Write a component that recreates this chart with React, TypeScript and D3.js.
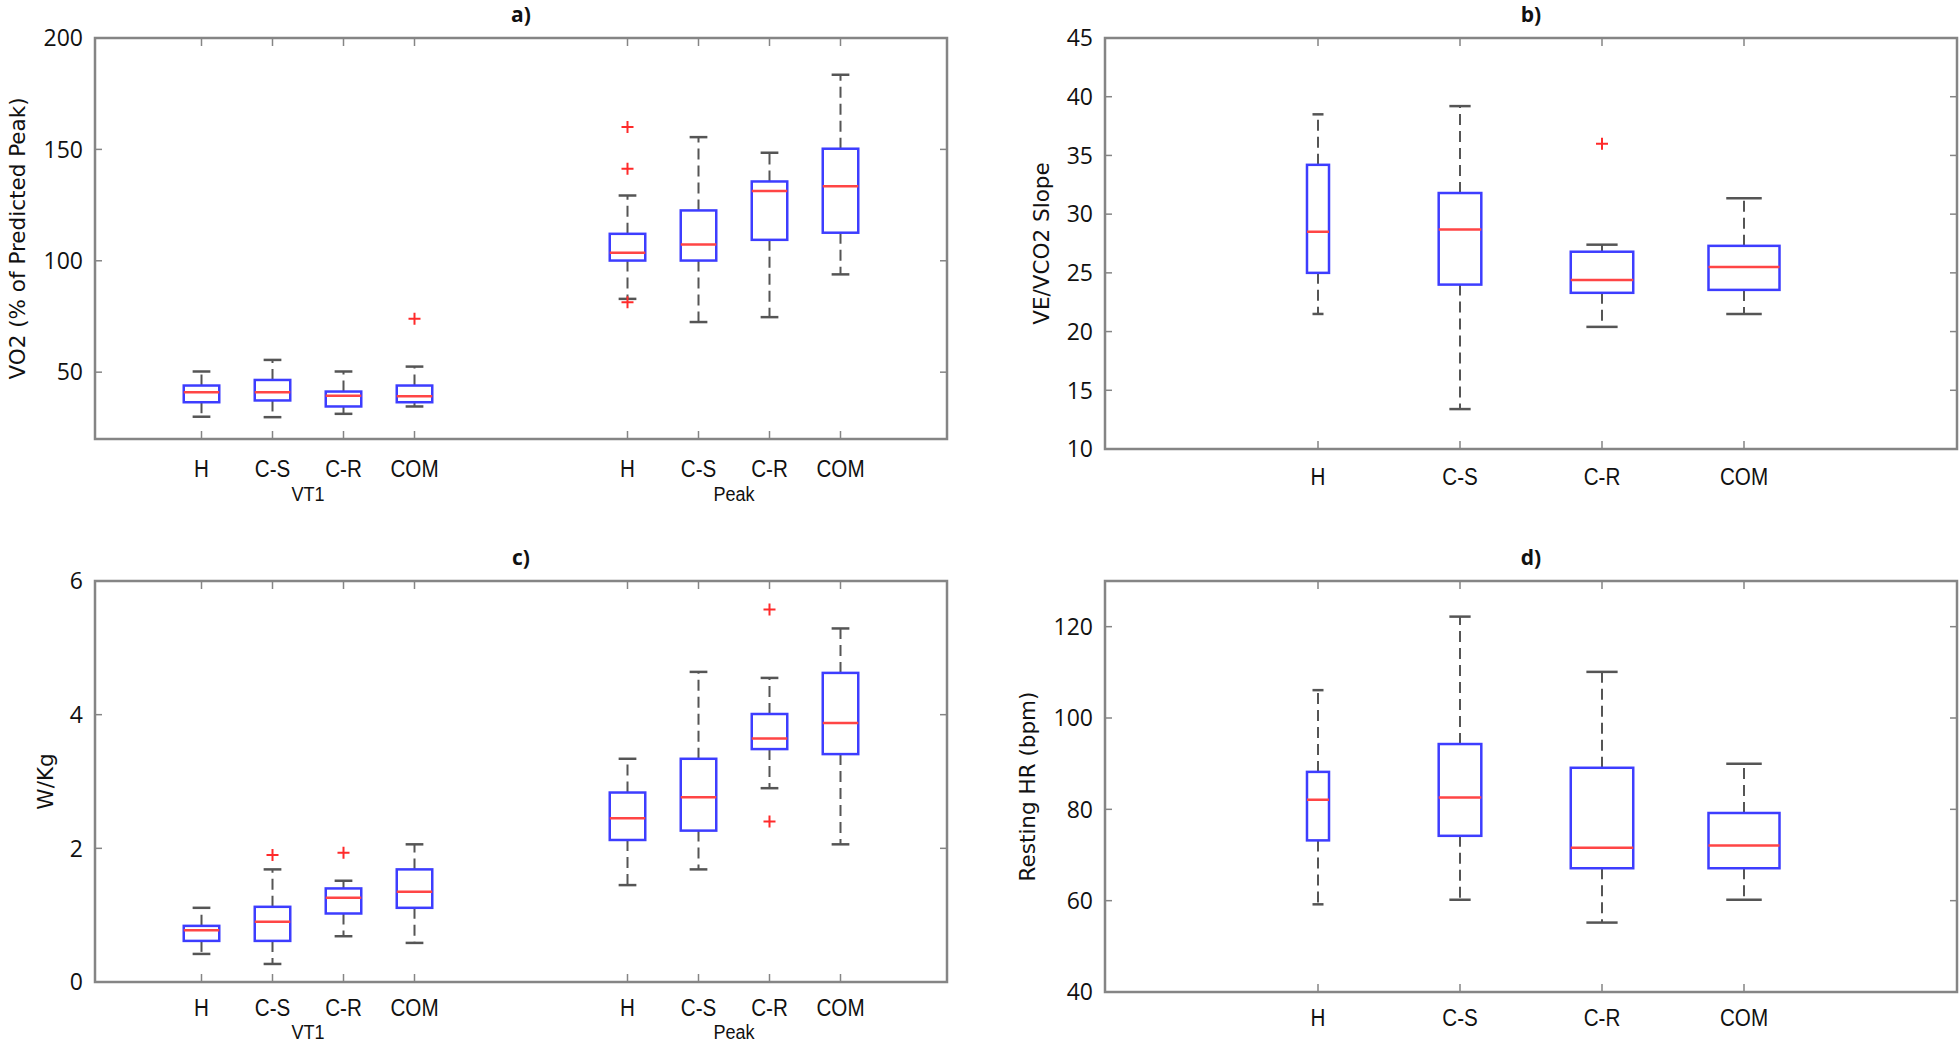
import { useEffect, useRef } from 'react';
import * as d3 from 'd3';

// groups and phases
const groups = ['H', 'C-S', 'C-R', 'COM'];
const phases = ['VT1', 'Peak'];
const phasePositions = [1, 2, 3, 4, 7, 8, 9, 10];
const singlePositions = [1, 2, 3, 4];

// a) VO2 (% of predicted peak): [lower whisker, q1, median, q3, upper whisker]
const vo2Stats = [
    [30, 36.5, 41, 44, 50.3],
    [29.8, 37.3, 41, 46.5, 55.5],
    [31.3, 34.6, 39.4, 41.3, 50.3],
    [34.6, 36.5, 39.2, 44, 52.5],
    [82.9, 100.1, 103.6, 112.1, 129.3],
    [72.5, 100.1, 107.3, 122.6, 155.5],
    [74.7, 109.4, 131.3, 135.6, 148.5],
    [93.9, 112.6, 133.5, 150.3, 183.5]
];
const vo2Outliers = [[], [], [], [74], [160, 141.3, 81.4], [], [], []];
const vo2Ticks = [50, 100, 150, 200];

// b) VE/VCO2 slope
const slopeStats = [
    [21.5, 25.0, 28.5, 34.2, 38.5],
    [13.4, 24.0, 28.7, 31.8, 39.2],
    [20.4, 23.3, 24.4, 26.8, 27.4],
    [21.5, 23.55, 25.5, 27.3, 31.35]
];
const slopeOutliers = [[], [], [36], []];
const slopeTicks = [10, 15, 20, 25, 30, 35, 40, 45];

// c) W/Kg
const wkgStats = [
    [0.42, 0.615, 0.775, 0.84, 1.11],
    [0.27, 0.615, 0.9, 1.125, 1.685],
    [0.685, 1.025, 1.26, 1.4, 1.515],
    [0.585, 1.11, 1.35, 1.685, 2.06],
    [1.45, 2.125, 2.45, 2.835, 3.34],
    [1.685, 2.265, 2.765, 3.34, 4.64],
    [2.9, 3.485, 3.645, 4.01, 4.55],
    [2.06, 3.41, 3.875, 4.625, 5.29]
];
const wkgOutliers = [[], [1.9], [1.935], [], [], [], [5.575, 2.4], []];
const wkgTicks = [0, 2, 4, 6];

// d) resting HR
const hrStats = [
    [59.2, 73.2, 82.1, 88.2, 106.1],
    [60.2, 74.2, 82.6, 94.3, 122.2],
    [55.2, 67.1, 71.6, 89.1, 110.1],
    [60.2, 67.1, 72.1, 79.2, 90.0]
];
const hrOutliers = [[], [], [], []];
const hrTicks = [40, 60, 80, 100, 120];

// box widths (x units) for the single-phase panels
const singleWidths = [0.155, 0.3, 0.44, 0.5];
const phaseWidths = [0.5, 0.5, 0.5, 0.5, 0.5, 0.5, 0.5, 0.5];

const panels = [
    {
        title: 'a)', ylabel: 'VO2 (% of Predicted Peak)',
        left: 95, right: 947, top: 38, bottom: 439, labelGap: 38, phaseGap: 62,
        yDomain: [20, 200], yTicks: vo2Ticks, xDomain: [-0.5, 11.5],
        positions: phasePositions, stats: vo2Stats, outliers: vo2Outliers,
        widths: phaseWidths, labels: [...groups, ...groups], phased: true
    },
    {
        title: 'b)', ylabel: 'VE/VCO2 Slope',
        left: 1105, right: 1957, top: 38, bottom: 449, labelGap: 36, phaseGap: 0,
        yDomain: [10, 45], yTicks: slopeTicks, xDomain: [-0.5, 5.5],
        positions: singlePositions, stats: slopeStats, outliers: slopeOutliers,
        widths: singleWidths, labels: groups, phased: false
    },
    {
        title: 'c)', ylabel: 'W/Kg',
        left: 95, right: 947, top: 581, bottom: 982, labelGap: 34, phaseGap: 57,
        yDomain: [0, 6], yTicks: wkgTicks, xDomain: [-0.5, 11.5],
        positions: phasePositions, stats: wkgStats, outliers: wkgOutliers,
        widths: phaseWidths, labels: [...groups, ...groups], phased: true
    },
    {
        title: 'd)', ylabel: 'Resting HR (bpm)',
        left: 1105, right: 1957, top: 581, bottom: 992, labelGap: 34, phaseGap: 0,
        yDomain: [40, 130], yTicks: hrTicks, xDomain: [-0.5, 5.5],
        positions: singlePositions, stats: hrStats, outliers: hrOutliers,
        widths: singleWidths, labels: groups, phased: false
    }
];

const FRAME = '#858585';
const WHISKER = '#555555';
const BOX = '#3d3dff';
const MEDIAN = '#ff4545';
const NARROW = 0.86; // x labels in the original are a condensed face

export default function App() {
    const svgRef = useRef(null);

    useEffect(() => {
        const svg = d3.select(svgRef.current);
        svg.selectAll('*').remove();

        // condensed text helper
        const narrowText = (g, tx, ty, size, txt) =>
            g.append('text')
                .attr('transform', `translate(${tx},${ty}) scale(${NARROW},1)`)
                .attr('text-anchor', 'middle')
                .attr('font-family', '"Liberation Sans", Arial, sans-serif')
                .attr('font-size', size)
                .attr('fill', '#111')
                .text(txt);

        panels.forEach(p => {
            const x = d3.scaleLinear().domain(p.xDomain).range([p.left, p.right]);
            const y = d3.scaleLinear().domain(p.yDomain).range([p.bottom, p.top]);
            const g = svg.append('g');

            // ticks (inward, on all four sides)
            p.yTicks.forEach(t => {
                g.append('line').attr('x1', p.left).attr('x2', p.left + 7)
                    .attr('y1', y(t)).attr('y2', y(t))
                    .attr('stroke', FRAME).attr('stroke-width', 1.5);
                g.append('line').attr('x1', p.right).attr('x2', p.right - 7)
                    .attr('y1', y(t)).attr('y2', y(t))
                    .attr('stroke', FRAME).attr('stroke-width', 1.5);
                g.append('text')
                    .attr('x', p.left - 12)
                    .attr('y', y(t))
                    .attr('dy', '0.36em')
                    .attr('text-anchor', 'end')
                    .attr('font-family', '"Open Sans", sans-serif')
                    .attr('font-size', 23)
                    .attr('fill', '#111')
                    .text(t);
            });
            p.positions.forEach((pos, i) => {
                g.append('line').attr('x1', x(pos)).attr('x2', x(pos))
                    .attr('y1', p.bottom).attr('y2', p.bottom - 8)
                    .attr('stroke', FRAME).attr('stroke-width', 1.5);
                g.append('line').attr('x1', x(pos)).attr('x2', x(pos))
                    .attr('y1', p.top).attr('y2', p.top + 8)
                    .attr('stroke', FRAME).attr('stroke-width', 1.5);
                narrowText(g, x(pos), p.bottom + p.labelGap, 24, p.labels[i]);
            });

            // phase labels
            if (p.phased) {
                phases.forEach((ph, k) => {
                    const ps = p.positions.slice(k * 4, k * 4 + 4);
                    narrowText(g, x((ps[0] + ps[3]) / 2), p.bottom + p.phaseGap, 21, ph);
                });
            }

            // frame
            g.append('rect')
                .attr('x', p.left).attr('y', p.top)
                .attr('width', p.right - p.left).attr('height', p.bottom - p.top)
                .attr('fill', 'none').attr('stroke', FRAME).attr('stroke-width', 2.5);

            // title
            g.append('text')
                .attr('x', (p.left + p.right) / 2)
                .attr('y', p.top - 16)
                .attr('text-anchor', 'middle')
                .attr('font-family', '"Open Sans", sans-serif')
                .attr('font-weight', 700)
                .attr('font-size', 21)
                .attr('fill', '#111')
                .text(p.title);

            // y label, placed next to the widest tick label
            const digits = d3.max(p.yTicks, t => String(t).length);
            const lx = p.left - (36 + 14 * digits);
            g.append('text')
                .attr('transform', `translate(${lx},${(p.top + p.bottom) / 2}) rotate(-90)`)
                .attr('text-anchor', 'middle')
                .attr('dy', '0.35em')
                .attr('font-family', '"DejaVu Sans", sans-serif')
                .attr('font-size', 21.5)
                .attr('fill', '#111')
                .text(p.ylabel);

            // boxes
            p.stats.forEach((s, i) => {
                const cx = x(p.positions[i]);
                const half = (x(p.widths[i]) - x(0)) / 2;
                const cap = half / 2;
                const [lo, q1, med, q3, hi] = s;

                // dashed whiskers
                g.append('line').attr('x1', cx).attr('x2', cx)
                    .attr('y1', y(q3)).attr('y2', y(hi))
                    .attr('stroke', WHISKER).attr('stroke-width', 2)
                    .attr('stroke-dasharray', '11,6');
                g.append('line').attr('x1', cx).attr('x2', cx)
                    .attr('y1', y(q1)).attr('y2', y(lo))
                    .attr('stroke', WHISKER).attr('stroke-width', 2)
                    .attr('stroke-dasharray', '11,6');
                // caps
                [lo, hi].forEach(v => {
                    g.append('line').attr('x1', cx - cap).attr('x2', cx + cap)
                        .attr('y1', y(v)).attr('y2', y(v))
                        .attr('stroke', WHISKER).attr('stroke-width', 2.5);
                });
                // box
                g.append('rect')
                    .attr('x', cx - half).attr('y', y(q3))
                    .attr('width', half * 2).attr('height', y(q1) - y(q3))
                    .attr('fill', 'none').attr('stroke', BOX).attr('stroke-width', 2.5);
                // median
                g.append('line').attr('x1', cx - half).attr('x2', cx + half)
                    .attr('y1', y(med)).attr('y2', y(med))
                    .attr('stroke', MEDIAN).attr('stroke-width', 2.5);
                // outliers
                p.outliers[i].forEach(v => {
                    g.append('path')
                        .attr('d', `M${cx - 6},${y(v)}H${cx + 6}M${cx},${y(v) - 6}V${y(v) + 6}`)
                        .attr('stroke', '#ff2a2a').attr('stroke-width', 2)
                        .attr('fill', 'none');
                });
            });
        });
    }, []);

    return (
        <svg
            ref={svgRef}
            width={1960}
            height={1042}
            style={{ position: 'absolute', left: 0, top: 0, background: '#fff' }}
        />
    );
}
